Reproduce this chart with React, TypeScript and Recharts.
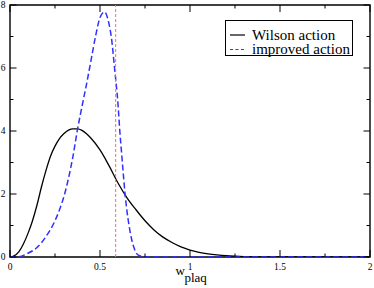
import React from 'react';
import { LineChart, Line, XAxis, YAxis, ReferenceLine, ReferenceArea, Legend, Label } from 'recharts';

const wilsonX = [0, 0.02, 0.05, 0.075, 0.1, 0.125, 0.15, 0.175, 0.2, 0.225, 0.25, 0.275, 0.3, 0.325, 0.35, 0.375, 0.4, 0.425, 0.45, 0.5, 0.55, 0.6, 0.65, 0.7, 0.75, 0.8, 0.85, 0.9, 0.95, 1.0, 1.05, 1.1, 1.15, 1.2, 1.25, 1.3, 1.4, 1.6, 2.0];
const wilsonY = [0, 0.03, 0.17, 0.42, 0.75, 1.15, 1.65, 2.23, 2.75, 3.2, 3.52, 3.76, 3.92, 4.03, 4.07, 4.07, 4.02, 3.91, 3.77, 3.4, 2.9, 2.35, 1.88, 1.5, 1.15, 0.86, 0.63, 0.46, 0.32, 0.22, 0.15, 0.1, 0.065, 0.04, 0.025, 0.015, 0.005, 0, 0];

const improvedX = [0, 0.05, 0.1, 0.15, 0.2, 0.25, 0.275, 0.3, 0.325, 0.35, 0.375, 0.4, 0.425, 0.45, 0.475, 0.5, 0.525, 0.55, 0.565, 0.58, 0.6, 0.61, 0.62, 0.63, 0.64, 0.65, 0.66, 0.675, 0.69, 0.705, 0.72, 0.74, 0.76, 1.0, 1.5, 2.0];
const improvedY = [0, 0.01, 0.12, 0.3, 0.65, 1.15, 1.5, 1.93, 2.5, 3.2, 4.05, 4.78, 5.48, 6.24, 7.0, 7.6, 7.78, 7.4, 6.89, 6.04, 4.85, 4.0, 3.3, 2.6, 1.95, 1.45, 1.05, 0.58, 0.28, 0.1, 0.04, 0.01, 0, 0, 0, 0];

const xTicks = [0, 0.25, 0.5, 0.75, 1, 1.25, 1.5, 1.75, 2];
const xMajor = [0, 0.5, 1, 1.5, 2];
const yTicks = [0, 1, 2, 3, 4, 5, 6, 7, 8];
const yMajor = [0, 2, 4, 6, 8];
const criticalX = 0.587;

const seriesNames = ['Wilson action', 'improved action'];

const wilsonData = wilsonX.map((x, i) => ({ x, y: wilsonY[i] }));
const improvedData = improvedX.map((x, i) => ({ x, y: improvedY[i] }));

const W = 374;
const H = 288;
const M = { top: 5, right: 4, bottom: 0, left: 0 };
const X_AXIS_H = 31;
const Y_AXIS_W = 10;
const PLOT_W = W - Y_AXIS_W - M.right;
const PLOT_H = H - M.top - X_AXIS_H;
const FONT = 'Liberation Serif, DejaVu Serif, serif';

function XTick(props: any) {
  const { x, y, payload } = props;
  const v = payload.value;
  const major = xMajor.includes(v);
  const len = major ? 7 : 3.5;
  return (
    <g>
      <line x1={x} x2={x} y1={y} y2={y - len} stroke="#000" strokeWidth={1} />
      <line x1={x} x2={x} y1={y - PLOT_H} y2={y - PLOT_H + len} stroke="#000" strokeWidth={1} />
      {major && (
        <text x={x} y={y + 13} textAnchor="middle" style={{ fontFamily: FONT, fontSize: 9.5 }} fill="#000">
          {String(v)}
        </text>
      )}
    </g>
  );
}

function YTick(props: any) {
  const { x, y, payload } = props;
  const v = payload.value;
  const major = yMajor.includes(v);
  const len = major ? 6.5 : 3.5;
  return (
    <g>
      <line x1={x} x2={x + len} y1={y} y2={y} stroke="#000" strokeWidth={1} />
      <line x1={x + PLOT_W} x2={x + PLOT_W - len} y1={y} y2={y} stroke="#000" strokeWidth={1} />
      {major && (
        <text x={x - 4.5} y={y + 2.5} textAnchor="end" style={{ fontFamily: FONT, fontSize: 9.5 }} fill="#000">
          {String(v)}
        </text>
      )}
    </g>
  );
}

function XLabel(props: any) {
  const vb = props.viewBox || { x: Y_AXIS_W, y: M.top + PLOT_H, width: PLOT_W, height: X_AXIS_H };
  const cx = vb.x + vb.width / 2;
  return (
    <text x={cx - 14.5} y={vb.y + 18} style={{ fontFamily: FONT, fontSize: 13 }} fill="#000">
      w
      <tspan dx={-0.5} dy={7}>plaq</tspan>
    </text>
  );
}

function LegendBox() {
  return (
    <div
      style={{
        width: 126,
        height: 34,
        border: '1px solid #000',
        background: '#fff',
        fontFamily: FONT,
        fontSize: 15,
        lineHeight: '14px',
        color: '#000',
        position: 'relative',
        boxSizing: 'content-box',
      }}
    >
      <svg width={24} height={34} style={{ position: 'absolute', left: 0, top: 0 }}>
        <line x1={4} x2={19} y1={14} y2={14} stroke="#000" strokeWidth={1.2} />
        <line x1={4} x2={19} y1={28.5} y2={28.5} stroke="#3030ff" strokeWidth={1.2} strokeDasharray="3 2.5" />
      </svg>
      <div style={{ position: 'absolute', left: 26, top: 7, whiteSpace: 'nowrap' }}>{seriesNames[0]}</div>
      <div style={{ position: 'absolute', left: 26, top: 21, whiteSpace: 'nowrap' }}>{seriesNames[1]}</div>
    </div>
  );
}

export default function App() {
  return (
    <div style={{ position: 'absolute', left: 0, top: 0, width: W, height: H, background: '#fff' }}>
      <LineChart width={W} height={H} margin={M}>
        <XAxis
          dataKey="x"
          type="number"
          domain={[0, 2]}
          allowDataOverflow
          ticks={xTicks}
          interval={0}
          tickSize={0}
          tickMargin={0}
          axisLine={false}
          tickLine={false}
          tick={<XTick />}
          height={X_AXIS_H}
        >
          <Label content={<XLabel />} />
        </XAxis>
        <YAxis
          type="number"
          domain={[0, 8]}
          allowDataOverflow
          ticks={yTicks}
          interval={0}
          tickSize={0}
          tickMargin={0}
          axisLine={false}
          tickLine={false}
          tick={<YTick />}
          width={Y_AXIS_W}
        />
        <ReferenceArea x1={0} x2={2} y1={0} y2={8} fill="none" stroke="#000" strokeWidth={1.4} ifOverflow="visible" />
        <Line
          data={wilsonData}
          dataKey="y"
          name={seriesNames[0]}
          type="monotone"
          stroke="#000"
          strokeWidth={1.3}
          dot={false}
          isAnimationActive={false}
        />
        <Line
          data={improvedData}
          dataKey="y"
          name={seriesNames[1]}
          type="monotone"
          stroke="#3030ff"
          strokeWidth={1.5}
          strokeDasharray="6 3"
          dot={false}
          isAnimationActive={false}
        />
        <ReferenceLine x={criticalX} stroke="#ff6a6a" strokeWidth={1} strokeDasharray="3 2" />
        <Legend
          layout="horizontal"
          verticalAlign="middle"
          align="center"
          content={<LegendBox />}
          wrapperStyle={{ position: 'absolute', left: 225, top: 20, width: 128, height: 36 }}
        />
      </LineChart>
    </div>
  );
}
